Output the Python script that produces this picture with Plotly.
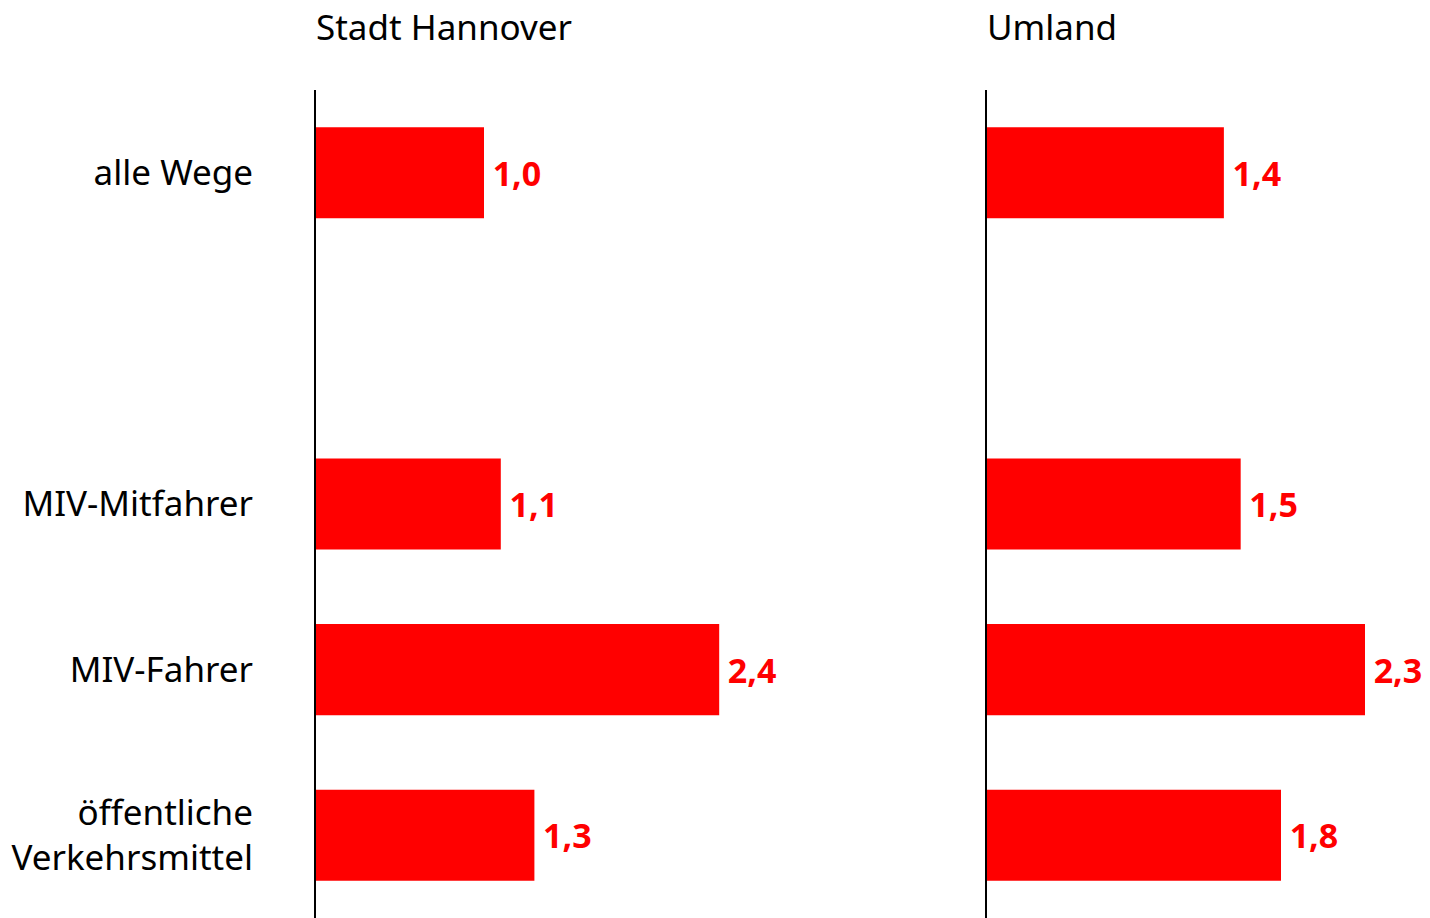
import plotly.graph_objects as go

categories = ["alle Wege", " ", "MIV-Mitfahrer", "MIV-Fahrer", "öffentliche<br>Verkehrsmittel"]
panel_titles = ["Stadt Hannover", "Umland"]
stadt_values = [1.0, None, 1.1, 2.4, 1.3]
stadt_labels = ["1,0", "", "1,1", "2,4", "1,3"]
umland_values = [1.41, None, 1.51, 2.25, 1.75]
umland_labels = ["1,4", "", "1,5", "2,3", "1,8"]

# page body has an 8px margin, so the figure starts at (8, 8) on screen
OFF = 8
W, H = 1430 - OFF, 918 - OFF
FONT = "Noto Sans"
RED = "#ff0000"
px_per_unit = 168.0
left_x0, left_x1 = 316 - OFF, 900 - OFF
right_x0, right_x1 = 987 - OFF, 1430 - OFF
top = 90 - OFF

fig = go.Figure()
for vals, labs, xa, ya in [(stadt_values, stadt_labels, "x", "y"),
                           (umland_values, umland_labels, "x2", "y2")]:
    fig.add_trace(go.Bar(
        x=vals, y=categories, orientation="h", xaxis=xa, yaxis=ya,
        marker=dict(color=RED, line=dict(width=0)), width=0.55,
        text=labs, texttemplate="\u2009%{text}", textposition="outside",
        textfont=dict(family=FONT, size=34, color=RED, weight="bold"),
        constraintext="none", cliponaxis=False, showlegend=False,
        hoverinfo="skip",
    ))

yax_common = dict(type="category", categoryorder="array", categoryarray=categories,
                  range=[4.5, -0.5], showline=True, linecolor="black", linewidth=2,
                  showgrid=False, zeroline=False, ticks="", fixedrange=True)

fig.update_layout(
    width=W, height=H, plot_bgcolor="white", paper_bgcolor="white",
    margin=dict(l=0, r=0, t=top, b=0),
    bargap=0.45,
    xaxis=dict(domain=[left_x0 / W, left_x1 / W], range=[0, (left_x1 - left_x0) / px_per_unit],
               visible=False),
    xaxis2=dict(domain=[right_x0 / W, 1.0], range=[0, (right_x1 - right_x0) / px_per_unit],
                visible=False),
    yaxis=dict(anchor="x", showticklabels=True, ticklabelstandoff=54,
               tickfont=dict(family=FONT, size=35, color="black"), **yax_common),
    yaxis2=dict(anchor="x2", showticklabels=False, **yax_common),
    font=dict(family=FONT, color="black"),
)

for title, x0 in zip(panel_titles, [left_x0, right_x0]):
    fig.add_annotation(text=title, xref="paper", yref="paper", x=x0 / W,
                       y=1 + (top - (26 - OFF)) / (H - top), xanchor="left", yanchor="middle",
                       xshift=-2,
                       showarrow=False, font=dict(family=FONT, size=35, color="black"))

fig.write_html("out.html")
